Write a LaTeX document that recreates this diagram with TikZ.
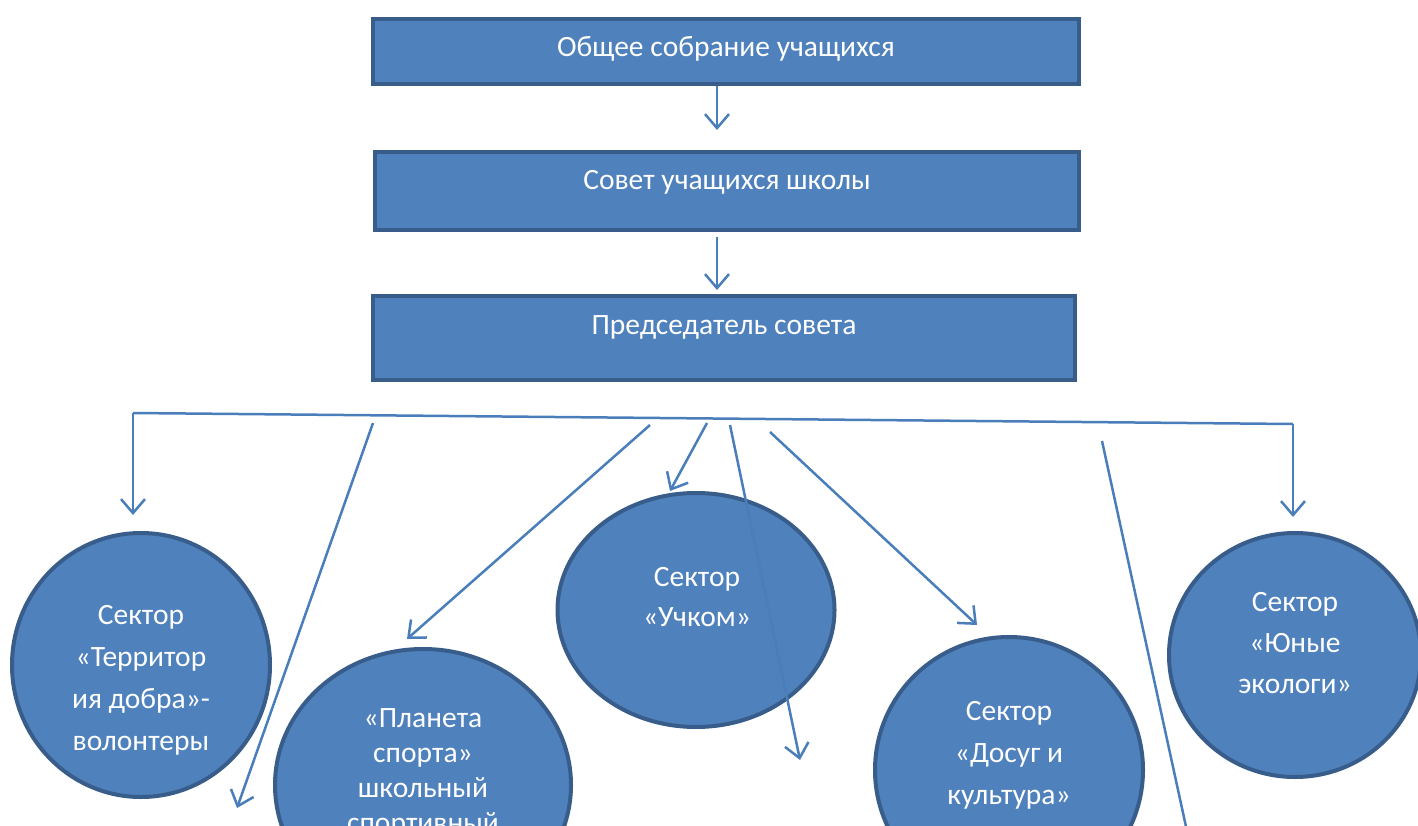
\documentclass[tikz,border=0pt]{standalone}
\usepackage{fontspec}
\setmainfont{Carlito}
\usetikzlibrary{arrows.meta,shapes.geometric}
\definecolor{boxfill}{HTML}{4F81BD}
\definecolor{boxline}{HTML}{385D8A}
\definecolor{linkline}{HTML}{4A7EBB}

\begin{document}
\begin{tikzpicture}[x=1pt,y=-1pt,
		box/.style={rectangle,draw=boxline,fill=boxfill,line width=4pt,anchor=north,inner ysep=0pt,text height=38pt,text=white,font=\fontsize{29.5}{35}\selectfont},
		sector/.style={ellipse,draw=boxline,fill=boxfill,line width=4pt,inner sep=0pt},
		sectortext/.style={text=white,align=center,inner sep=0pt},
		conn/.style={draw=linkline,line width=2.5pt,-{Straight Barb[length=14pt,width=24pt,line width=2.5pt]}},
		link/.style={draw=linkline,line width=2.5pt}]
		\useasboundingbox (0,0) rectangle (1418,826);
		\clip (0,0) rectangle (1418,826);
		%boxes of the council
		\node[box,minimum width=706pt,text depth=27pt] (box1) at (726,17) {Общее собрание учащихся};
		\node[box,minimum width=704pt,text depth=40pt] (box2) at (727,150) {Совет учащихся школы};
		\node[box,minimum width=702pt,text depth=46pt] (box3) at (724,294) {Председатель совета};
		%sectors
		\node[sector,minimum width=258pt,minimum height=264pt] (e1) at (141,665) {};
		\node[sector,minimum width=296pt,minimum height=272pt] (e2) at (423,785) {};
		\node[sector,minimum width=277pt,minimum height=234pt] (e3) at (696,610) {};
		\node[sector,minimum width=268pt,minimum height=266pt] (e4) at (1009,770) {};
		\node[sector,minimum width=252pt,minimum height=244pt] (e5) at (1295,655) {};
		%texts of the sectors
		\node[sectortext,font=\fontsize{29.5}{42}\selectfont] (t1) at (141,680) {Сектор\\«Территор\\ия добра»-\\волонтеры};
		\node[sectortext,font=\fontsize{29.5}{35}\selectfont] (t2) at (423,773) {«Планета\\спорта»\\школьный\\спортивный};
		\node[sectortext,font=\fontsize{29.5}{40}\selectfont] (t3) at (697,597) {Сектор\\«Учком»};
		\node[sectortext,font=\fontsize{29.5}{42}\selectfont] (t4) at (1009,755) {Сектор\\«Досуг и\\культура»};
		\node[sectortext,font=\fontsize{29.5}{41}\selectfont] (t5) at (1295,643) {Сектор\\«Юные\\экологи»};
		%ends of the links
		\coordinate (a1) at (717,130);
		\coordinate (a2s) at (717,237);
		\coordinate (a2) at (717,290);
		\coordinate (busL) at (133,413);
		\coordinate (busR) at (1293,424);
		\coordinate (dropL) at (133,515);
		\coordinate (dropR) at (1293,517);
		%links between the boxes
		\draw[conn] (box1.south -| a1) -- (a1);
		\draw[conn] (a2s) -- (a2);
		\draw[link] (busL) -- (busR);
		\draw[conn] (busL) -- (dropL);
		\draw[conn] (busR) -- (dropR);
		%links to the sectors
		\foreach \nm/\xs/\ys/\xe/\ye in {d1/373/423/237/808,d2/650/425/407/639,d3/707/423/670/491,d4/730/425/800/760,d5/770/432/977/625}{
			\coordinate (\nm-s) at (\xs,\ys);
			\coordinate (\nm-e) at (\xe,\ye);
			\draw[conn] (\nm-s) -- (\nm-e);
		}
		\coordinate (d6-s) at (1102,441);
		\coordinate (d6-e) at (1190,845);
		\draw[link] (d6-s) -- (d6-e);
	\end{tikzpicture}
\end{document}
